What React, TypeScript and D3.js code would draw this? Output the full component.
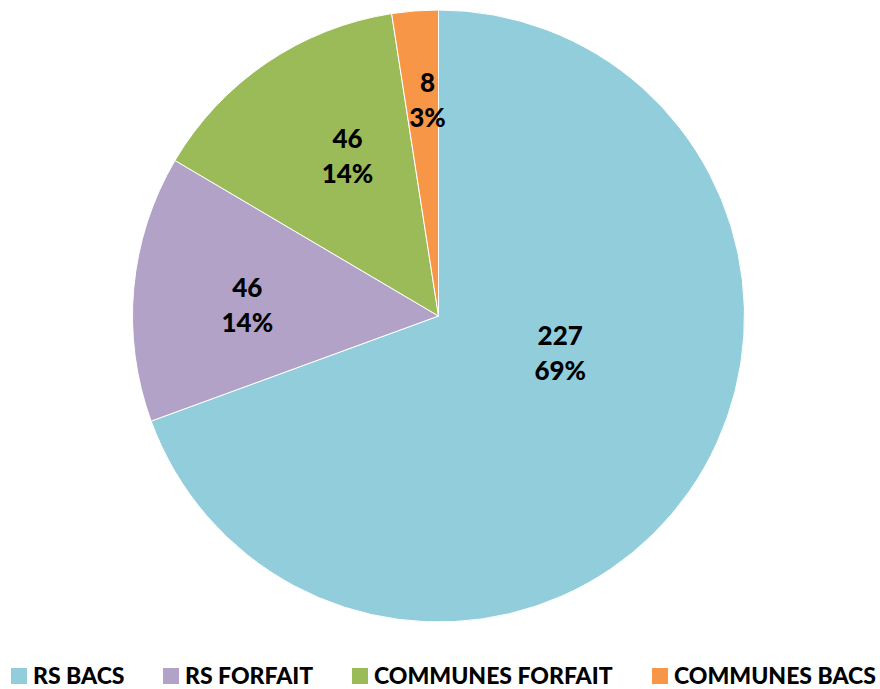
import React from "react";
import * as d3 from "d3";

const categories = ["RS BACS", "RS FORFAIT", "COMMUNES FORFAIT", "COMMUNES BACS"];
const values = [227, 46, 46, 8];
const percentLabels = ["69%", "14%", "14%", "3%"];
const colors = ["#92CDDC", "#B2A2C7", "#9BBB59", "#F79646"];

// layout
const W = 880;
const H = 689;
const CX = 438.5;
const CY = 316;
const R = 306;
const LABEL_R = 190;
const labelNudge: [number, number][] = [
  [-34, -71.5],
  [-2, 6.7],
  [15.6, -2.2],
  [3.6, -26],
];
const legendSquareX = [11, 163, 352, 652];
const LEGEND_Y = 668;
const FONT = "Lato, 'Liberation Sans', Arial, sans-serif";
const WEIGHT = 900;

export default function App() {
  const pie = d3
    .pie<number>()
    .sort(null)
    .value((d) => d)
    .startAngle(0)
    .endAngle(2 * Math.PI);
  const arcs = pie(values);
  const arc = d3.arc<d3.PieArcDatum<number>>().innerRadius(0).outerRadius(R);
  const labelArc = d3
    .arc<d3.PieArcDatum<number>>()
    .innerRadius(LABEL_R)
    .outerRadius(LABEL_R);

  return (
    <svg
      width={W}
      height={H}
      style={{ position: "absolute", left: 0, top: 0, display: "block", background: "#fff" }}
    >
      <g transform={`translate(${CX},${CY})`}>
        {arcs.map((a, i) => (
          <path key={i} d={arc(a) || ""} fill={colors[i]} stroke="#fff" strokeWidth={1} />
        ))}
        {arcs.map((a, i) => {
          const [x, y] = labelArc.centroid(a);
          const lx = x + labelNudge[i][0];
          const ly = y + labelNudge[i][1];
          return (
            <text
              key={"l" + i}
              x={lx}
              textAnchor="middle"
              fontFamily={FONT}
              fontWeight={WEIGHT}
              fontSize={26}
              fill="#000"
            >
              <tspan x={lx} y={ly - 8.5}>
                {values[i]}
              </tspan>
              <tspan x={lx} y={ly + 26.5}>
                {percentLabels[i]}
              </tspan>
            </text>
          );
        })}
      </g>
      <g>
        {categories.map((c, i) => (
          <g key={c}>
            <rect x={legendSquareX[i]} y={LEGEND_Y} width={16} height={16} fill={colors[i]} />
            <text
              x={legendSquareX[i] + 22}
              y={LEGEND_Y + 16}
              fontFamily={FONT}
              fontWeight={WEIGHT}
              fontSize={23}
              fill="#000"
            >
              {c}
            </text>
          </g>
        ))}
      </g>
    </svg>
  );
}
